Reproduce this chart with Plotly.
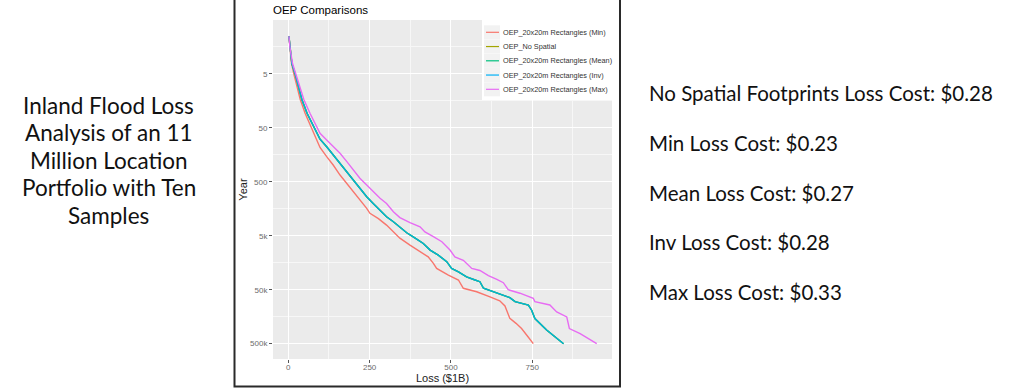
import plotly.graph_objects as go

# ---------------- data ----------------
min_loss = [2, 5, 10, 17, 27, 37, 52, 72, 89, 97.5, 118, 138, 159, 180, 200, 220, 241, 251, 277, 302,
            328, 343, 374, 404, 430, 446, 456, 492, 523, 538, 579, 620, 650, 666, 681, 700, 717, 735, 753]
min_year = [1, 1.6, 3.2, 5, 8.6, 15, 27, 50, 84, 115, 171, 244, 374, 535, 760, 1085, 1550, 1920, 2400, 3170,
            4530, 5540, 7450, 9900, 12300, 16200, 20100, 26800, 33000, 47000, 54500, 68000, 80000, 100000,
            170000, 210000, 262000, 360000, 500000]

mid_loss = [2, 5, 11, 21, 31, 42, 58, 79, 97, 118, 138, 159, 180, 200, 220, 241, 261, 282, 302, 323,
            343, 364, 390, 415, 436, 461, 487, 502, 523, 548, 574, 589, 600, 630, 660, 681, 697, 738, 748, 758,
            794, 820, 846]
mid_year = [1, 1.6, 3.2, 5, 8.6, 15, 27, 50, 80, 112, 159, 225, 325, 462, 660, 945, 1260, 1670, 2220, 2750,
            3500, 4400, 5540, 6950, 9200, 11400, 15100, 20100, 23400, 29000, 33000, 35500, 47000, 54500, 62000,
            70000, 83000, 96000, 120000, 171000, 280000, 380000, 500000]

max_loss = [2, 5, 13, 23, 34, 48, 67, 89, 97.5, 118, 138, 159, 180, 200, 220, 241, 261, 282, 302, 323,
            343, 374, 405, 420, 446, 472, 497, 512, 538, 548, 564, 589, 615, 641, 661, 676, 712, 753, 758, 804,
            825, 856, 864, 897, 948]
max_year = [1, 1.6, 3.2, 5, 8.6, 15, 27, 50, 63, 84, 112, 148, 211, 301, 430, 570, 760, 1010, 1260, 1790,
            2300, 2850, 3400, 4230, 5200, 6450, 9200, 12300, 14200, 16200, 20100, 22000, 27500, 32000, 37000,
            50000, 58000, 72000, 83000, 96000, 129000, 160000, 262000, 325000, 500000]

series_names = ["OEP_20x20m Rectangles (Min)", "OEP_No Spatial", "OEP_20x20m Rectangles (Mean)",
                "OEP_20x20m Rectangles (Inv)", "OEP_20x20m Rectangles (Max)"]
series_colors = ["#F8766D", "#A3A500", "#00BF7D", "#00B0F6", "#E76BF3"]

y_tickvals = [5, 50, 500, 5000, 50000, 500000]
y_ticktext = ["5", "50", "500", "5k", "50k", "500k"]
y_minor = [1.58, 15.8, 158, 1581, 15811, 158114]
x_tickvals = [0, 250, 500, 750]
x_minor = [125, 375, 625, 875]

left_lines = ["Inland Flood Loss", "Analysis of an 11", "Million Location", "Portfolio with Ten", "Samples"]
right_lines = ["No Spatial Footprints Loss Cost: $0.28", "Min Loss Cost: $0.23", "Mean Loss Cost: $0.27",
               "Inv Loss Cost: $0.28", "Max Loss Cost: $0.33"]

# ---------------- figure ----------------
W, H = 1024, 388
L, R, T, B = 273, 612, 20, 359   # panel pixel box


def px_x(p):
    return (p - L) / (R - L)


def px_y(p):
    return (B - p) / (B - T)


fig = go.Figure()
data = [(min_loss, min_year), (mid_loss, mid_year), (mid_loss, mid_year), (mid_loss, mid_year),
        (max_loss, max_year)]
opac = [1, 1, 1, 0.75, 1]
for (xs, ys), name, col, op in zip(data, series_names, series_colors, opac):
    fig.add_trace(go.Scatter(x=xs, y=ys, mode="lines", name=name, opacity=op, showlegend=False,
                             line=dict(color=col, width=1.4)))

fig.update_layout(
    width=W, height=H,
    margin=dict(l=L, r=W - R, t=T, b=H - B),
    paper_bgcolor="white", plot_bgcolor="#EBEBEB",
    font=dict(family="Liberation Sans, Arial, sans-serif", color="#000000"),
    title=dict(text="OEP Comparisons", x=0, xref="paper", xanchor="left",
               y=1 - 10 / H, yref="container", yanchor="middle",
               font=dict(size=11.5, color="#000000")),
    showlegend=False,
)
fig.update_xaxes(range=[-47, 995], tickvals=x_tickvals, ticks="outside", ticklen=3,
                 tickcolor="#555555", tickfont=dict(size=8, color="#6B6B6B"), ticklabelstandoff=-3,
                 showgrid=True, gridcolor="white", gridwidth=1.1, zeroline=False,
                 minor=dict(tickvals=x_minor, showgrid=True, gridcolor="#F7F7F7", gridwidth=0.6, ticks=""),
                 title=dict(text="Loss ($1B)", font=dict(size=11, color="#222222"), standoff=0),
                 automargin=False)
fig.update_yaxes(type="log", range=[5.983, -0.301], tickvals=y_tickvals, ticktext=y_ticktext,
                 ticks="outside", ticklen=3, tickcolor="#555555",
                 tickfont=dict(size=8, color="#6B6B6B"),
                 showgrid=True, gridcolor="white", gridwidth=1.1, zeroline=False,
                 minor=dict(tickvals=y_minor, showgrid=True, gridcolor="#F7F7F7", gridwidth=0.6, ticks=""),
                 title=dict(text="Year", font=dict(size=11, color="#222222"), standoff=0),
                 automargin=False)

# legend (ggplot style, inside top-right of panel)
fig.add_shape(type="rect", xref="paper", yref="paper",
              x0=px_x(482), x1=px_x(614), y0=px_y(100), y1=px_y(20),
              line=dict(width=0), fillcolor="white", layer="above")
for i, (name, col) in enumerate(zip(series_names, series_colors)):
    yc = 32.3 + 14.25 * i
    fig.add_shape(type="rect", xref="paper", yref="paper",
                  x0=px_x(484), x1=px_x(500), y0=px_y(yc + 7), y1=px_y(yc - 7),
                  line=dict(width=0), fillcolor="#F2F2F2", layer="above")
    fig.add_shape(type="line", xref="paper", yref="paper",
                  x0=px_x(486), x1=px_x(499), y0=px_y(yc), y1=px_y(yc),
                  line=dict(color=col, width=1.2), layer="above")
    fig.add_annotation(text=name, xref="paper", yref="paper", x=px_x(501), y=px_y(yc),
                       xanchor="left", yanchor="middle", showarrow=False,
                       font=dict(size=7.3, color="#333333"))

# box around the chart image
fig.add_shape(type="rect", xref="paper", yref="paper",
              x0=px_x(234.5), x1=px_x(620), y0=px_y(386.5), y1=px_y(-3),
              line=dict(color="#2A2A2A", width=2), fillcolor="rgba(0,0,0,0)", layer="above")

for i, t in enumerate(left_lines):
    fig.add_annotation(text=t, xref="paper", yref="paper",
                       x=px_x(108.5), y=px_y(105 + 27.5 * i), xanchor="center", yanchor="middle",
                       showarrow=False, align="center",
                       font=dict(family="Lato, sans-serif", size=22.5, color="#111111"))

for i, t in enumerate(right_lines):
    fig.add_annotation(text=t, xref="paper", yref="paper",
                       x=px_x(647), y=px_y(93 + 49.8 * i), xanchor="left", yanchor="middle",
                       showarrow=False, align="left",
                       font=dict(family="Lato, sans-serif", size=20.5, color="#111111"))

fig.write_html("out.html", config={"displayModeBar": False},
               post_script="document.body.style.margin='0';")
